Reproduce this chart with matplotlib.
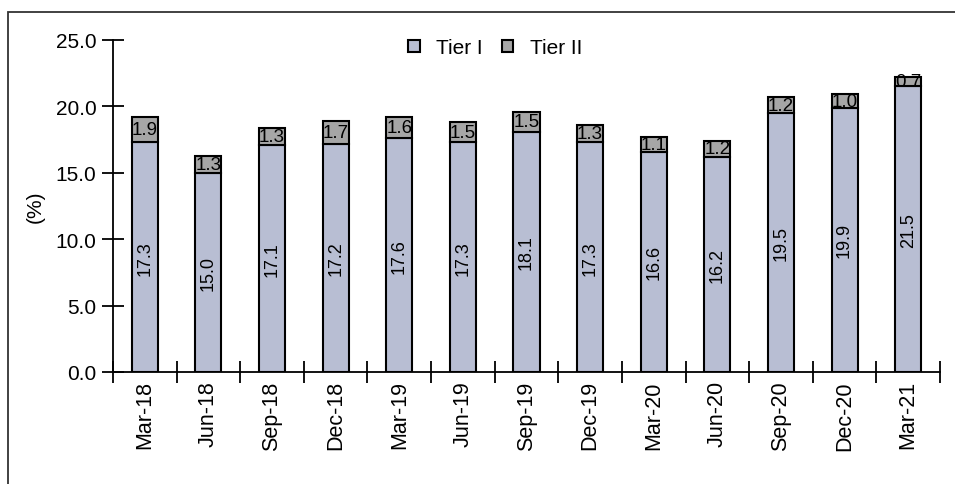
import matplotlib.pyplot as plt
import numpy as np
from matplotlib.patches import Rectangle

plt.rcParams['font.family'] = ['Liberation Sans', 'DejaVu Sans']

quarters = ['Mar-18', 'Jun-18', 'Sep-18', 'Dec-18', 'Mar-19', 'Jun-19', 'Sep-19',
            'Dec-19', 'Mar-20', 'Jun-20', 'Sep-20', 'Dec-20', 'Mar-21']
tier1 = [17.3, 15.0, 17.1, 17.2, 17.6, 17.3, 18.1, 17.3, 16.6, 16.2, 19.5, 19.9, 21.5]
tier2 = [1.9, 1.3, 1.3, 1.7, 1.6, 1.5, 1.5, 1.3, 1.1, 1.2, 1.2, 1.0, 0.7]

c1 = '#b8bed3'
c2 = '#a6a6a6'
fs = 15

fig = plt.figure(figsize=(9.55, 4.85), dpi=100)
ax = fig.add_axes([113 / 955, 1 - 373 / 485, (940 - 113) / 955, (373 - 41) / 485])

# outer frame (cropped on right and bottom in the original)
fig.add_artist(Rectangle((7.5 / 955, -0.2), 1.2, 1.2 - 12.5 / 485, transform=fig.transFigure,
                         fill=False, edgecolor='#333333', linewidth=1.3))

x = np.arange(len(quarters))
w = 0.41
ax.bar(x, tier1, w, color=c1, edgecolor='black', linewidth=1.5, label='Tier I')
ax.bar(x, tier2, w, bottom=tier1, color=c2, edgecolor='black', linewidth=1.5, label='Tier II')

for i in range(len(quarters)):
    ax.text(x[i], tier1[i] / 2, '%.1f' % tier1[i], rotation=90, ha='center', va='center', fontsize=13)
    ax.text(x[i], tier1[i] + tier2[i] / 2, '%.1f' % tier2[i], ha='center', va='center', fontsize=13.5)

ax.set_xlim(-0.5, len(quarters) - 0.5)
ax.set_ylim(0, 25)
ax.set_yticks(np.arange(0, 25.1, 5))
ax.set_yticklabels(['%.1f' % v for v in np.arange(0, 25.1, 5)], fontsize=fs)
ax.set_xticks(x)
ax.set_xticklabels(quarters, rotation=90, fontsize=15.5)
ax.set_xticks(np.arange(-0.5, len(quarters), 1), minor=True)
ax.tick_params(axis='x', which='major', length=0, pad=6)
ax.tick_params(axis='x', which='minor', direction='inout', length=16, width=1.3)
ax.tick_params(axis='y', direction='inout', length=16, width=1.3, pad=4)
ax.spines['top'].set_visible(False)
ax.spines['right'].set_visible(False)
ax.spines['left'].set_linewidth(1.3)
ax.spines['bottom'].set_linewidth(1.3)
ax.set_ylabel('(%)', fontsize=fs, labelpad=8)

ax.legend(loc='center', bbox_to_anchor=(0.462, 0.976), ncol=2, frameon=False, fontsize=fs,
          handlelength=0.55, handleheight=0.55, handletextpad=0.8, columnspacing=0.9)

fig.savefig('out.png', dpi=100)
